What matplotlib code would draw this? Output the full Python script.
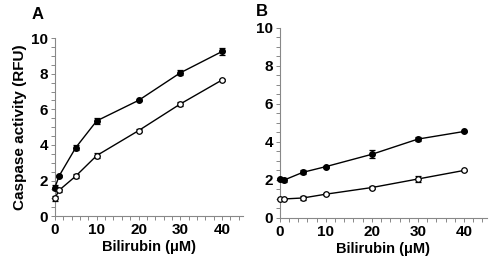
import numpy as np
import matplotlib.pyplot as plt
from matplotlib.ticker import MultipleLocator

plt.rcParams['font.family'] = ['Liberation Sans', 'DejaVu Sans']
plt.rcParams['font.weight'] = 'bold'

# Dane
x = [0, 1, 5, 10, 20, 30, 40]

a_filled = [1.6, 2.25, 3.85, 5.35, 6.5, 8.05, 9.25]
a_filled_err = [0.15, 0.05, 0.15, 0.15, 0.05, 0.15, 0.2]
a_open = [1.0, 1.45, 2.25, 3.4, 4.8, 6.3, 7.65]
a_open_err = [0.15, 0.1, 0.1, 0.15, 0.1, 0.1, 0.05]

b_filled = [2.05, 2.0, 2.4, 2.7, 3.35, 4.15, 4.55]
b_filled_err = [0.05, 0.1, 0.1, 0.05, 0.2, 0.1, 0.02]
b_open = [1.0, 1.0, 1.05, 1.25, 1.6, 2.05, 2.5]
b_open_err = [0.02, 0.02, 0.1, 0.05, 0.1, 0.15, 0.03]

x_ticks = [0, 10, 20, 30, 40]
y_ticks = [0, 2, 4, 6, 8, 10]

fig = plt.figure(figsize=(4.9, 2.61), dpi=100)
ax_a = fig.add_axes([0.112, 0.172, 0.384, 0.682])
ax_b = fig.add_axes([0.571, 0.165, 0.423, 0.728])


def draw(ax, filled, filled_err, opened, opened_err):
    ax.errorbar(x, filled, yerr=filled_err, color="black", lw=1,
                marker="o", ms=4, mfc="black", mec="black",
                capsize=2.5, elinewidth=0.9, capthick=0.9, clip_on=False, zorder=3)
    ax.errorbar(x, opened, yerr=opened_err, color="black", lw=1,
                marker="o", ms=4, mfc="white", mec="black", mew=0.9,
                capsize=2.5, elinewidth=0.9, capthick=0.9, clip_on=False, zorder=3)
    ax.set_xlim(0, 45)
    ax.set_ylim(0, 10)
    ax.set_xticks(x_ticks)
    ax.set_yticks(y_ticks)
    ax.xaxis.set_minor_locator(MultipleLocator(2))
    ax.yaxis.set_minor_locator(MultipleLocator(0.5))
    for s in ["top", "right"]:
        ax.spines[s].set_visible(False)
    for s in ["left", "bottom"]:
        ax.spines[s].set_color("#888888")
        ax.spines[s].set_linewidth(0.8)
    ax.tick_params(which="both", direction="out", length=3, width=0.7,
                   color="#888888", labelsize=11, pad=2)
    ax.set_xlabel("Bilirubin (\u03bcM)", fontsize=10.5, fontweight="bold", labelpad=2)


draw(ax_a, a_filled, a_filled_err, a_open, a_open_err)
draw(ax_b, b_filled, b_filled_err, b_open, b_open_err)
ax_a.set_ylabel("Caspase activity (RFU)", fontsize=11, fontweight="bold", labelpad=3)

fig.text(0.065, 0.975, "A", fontsize=12, fontweight="bold", va="top")
fig.text(0.523, 0.985, "B", fontsize=12, fontweight="bold", va="top")

plt.savefig("out.png", dpi=100)
